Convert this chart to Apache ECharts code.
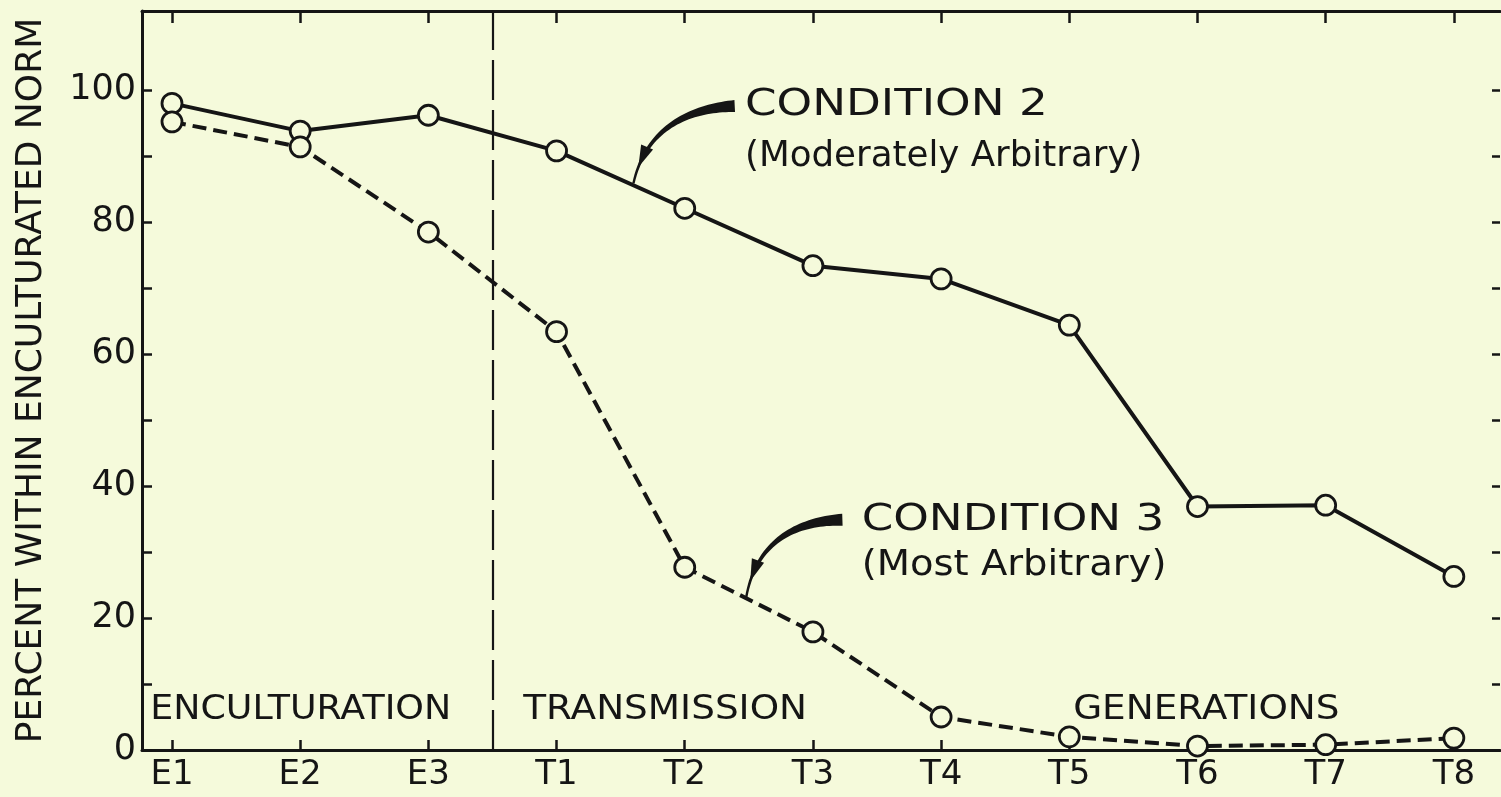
<!DOCTYPE html>
<html><head><meta charset="utf-8">
<script src="https://cdn.jsdelivr.net/npm/echarts@6/dist/echarts.min.js"></script>
<style>html,body{margin:0;padding:0;background:#f5fadb;}#c{width:1501px;height:797px;}</style>
</head><body><div id="c"></div>
<script>
// ---- data ----
const categories = ['E1','E2','E3','T1','T2','T3','T4','T5','T6','T7','T8'];
const condition2 = [98.0, 93.8, 96.2, 90.8, 82.1, 73.4, 71.4, 64.4, 36.9, 37.1, 26.3];
const condition3 = [95.2, 91.4, 78.5, 63.4, 27.7, 17.9, 5.0, 2.0, 0.6, 0.8, 1.8];
const yTickValues = [0,10,20,30,40,50,60,70,80,90,100];
const yLabelValues = [0,20,40,60,80,100];
const phaseBoundary = 2.5;
const phaseNames = ['ENCULTURATION','TRANSMISSION','GENERATIONS'];
const yTitle = 'PERCENT WITHIN ENCULTURATED NORM';
const cond2Label = ['CONDITION 2','(Moderately Arbitrary)'];
const cond3Label = ['CONDITION 3','(Most Arbitrary)'];

// ---- chart ----
const INK = '#151515', BG = '#f5fadb', FONT = '"DejaVu Sans", sans-serif';
const xIdx = categories.map((c, i) => i);
const chart = echarts.init(document.getElementById('c'), null, {renderer: 'canvas'});

const axisLine = {show: true, onZero: false, lineStyle: {color: INK, width: 3}};
const tick = (len, vals) => ({show: true, inside: true, length: len, lineStyle: {color: INK, width: 2.5}, customValues: vals});
const option = {
  backgroundColor: BG,
  animation: false,
  grid: {left: 142, right: 1, top: 11, bottom: 47},
  xAxis: [
    {
      type: 'value', min: -0.234, max: 10.36, position: 'bottom',
      axisLine: axisLine, splitLine: {show: false}, axisTick: tick(10, xIdx),
      axisLabel: {show: true, customValues: xIdx, formatter: v => categories[Math.round(v)],
        color: INK, fontSize: 34, fontFamily: FONT, margin: 8}
    },
    {
      type: 'value', min: -0.234, max: 10.36, position: 'top',
      axisLine: axisLine, splitLine: {show: false}, axisTick: tick(12, xIdx),
      axisLabel: {show: false}
    }
  ],
  yAxis: [
    {
      type: 'value', min: 0, max: 112, position: 'left',
      name: yTitle, nameLocation: 'middle', nameRotate: 90, nameGap: 92,
      nameTextStyle: {color: INK, fontSize: 36, fontFamily: FONT},
      axisLine: axisLine, splitLine: {show: false}, axisTick: tick(10, yTickValues),
      axisLabel: {show: true, customValues: yLabelValues, color: INK, fontSize: 35, fontFamily: FONT, margin: 6}
    },
    {
      type: 'value', min: 0, max: 112, position: 'right',
      axisLine: {show: false, onZero: false}, splitLine: {show: false}, axisTick: tick(8, yTickValues),
      axisLabel: {show: false}
    }
  ],
  series: [
    {
      name: cond2Label[0], type: 'line', xAxisIndex: 0, yAxisIndex: 0,
      data: condition2.map((v, i) => [i, v]),
      symbol: 'circle', symbolSize: 20,
      itemStyle: {color: BG, borderColor: INK, borderWidth: 2.8},
      lineStyle: {color: INK, width: 4, type: 'solid'},
      z: 3,
      markLine: {
        silent: true, symbol: 'none', label: {show: false},
        lineStyle: {color: INK, width: 2.2, type: [40, 10]},
        data: [{xAxis: phaseBoundary}]
      }
    },
    {
      name: cond3Label[0], type: 'line', xAxisIndex: 0, yAxisIndex: 0,
      data: condition3.map((v, i) => [i, v]),
      symbol: 'circle', symbolSize: 20,
      itemStyle: {color: BG, borderColor: INK, borderWidth: 2.8},
      lineStyle: {color: INK, width: 4, type: [14, 7]},
      z: 3
    }
  ]
};
chart.setOption(option);

// ---- annotations (anchored in data coordinates) ----
const px = p => chart.convertToPixel({seriesIndex: 0}, p);
function bez(p0, p1, p2, p3, t) {
  const u = 1 - t;
  return [u*u*u*p0[0] + 3*u*u*t*p1[0] + 3*u*t*t*p2[0] + t*t*t*p3[0],
          u*u*u*p0[1] + 3*u*u*t*p1[1] + 3*u*t*t*p2[1] + t*t*t*p3[1]];
}
function arrow(ctrlData) {
  const [p0, p1, p2, p3] = ctrlData.map(px);
  const n = 40, left = [], right = [];
  for (let i = 0; i <= n; i++) {
    const t = i / n;
    const a = bez(p0, p1, p2, p3, Math.max(0, t - 0.01)), b = bez(p0, p1, p2, p3, Math.min(1, t + 0.01));
    let dx = b[0] - a[0], dy = b[1] - a[1]; const L = Math.hypot(dx, dy) || 1; dx /= L; dy /= L;
    const w = (4.8 * Math.pow(1 - t, 1.6) + 1.2);
    const c = bez(p0, p1, p2, p3, t);
    left.push([c[0] - dy * w, c[1] + dx * w]);
    right.push([c[0] + dy * w, c[1] - dx * w]);
  }
  const body = {type: 'polygon', shape: {points: left.concat(right.reverse())}, style: {fill: INK}, z: 10};
  const tip = bez(p0, p1, p2, p3, 0.9), pre = bez(p0, p1, p2, p3, 0.84);
  let dx = tip[0] - pre[0], dy = tip[1] - pre[1]; const L = Math.hypot(dx, dy); dx /= L; dy /= L;
  const base = [tip[0] - dx * 22, tip[1] - dy * 22];
  const head = {type: 'polygon', shape: {points: [tip, [base[0] - dy * 6.5, base[1] + dx * 6.5], [base[0] + dy * 6.5, base[1] - dx * 6.5]]},
    style: {fill: INK}, z: 10};
  return [body, head];
}
function label(text, dataPos, size, sx) {
  const p = px(dataPos);
  return {type: 'text', x: p[0], y: p[1], scaleX: sx, z: 10,
    style: {text: text, fill: INK, fontSize: size, fontFamily: FONT, textAlign: 'left', textVerticalAlign: 'middle'}};
}
const graphics = [].concat(
  arrow([[4.39, 97.6], [4.06, 97.3], [3.70, 94.6], [3.6, 85.9]]),
  arrow([[5.23, 34.9], [4.88, 34.7], [4.56, 31.8], [4.48, 23.2]]),
  [
    label(cond2Label[0], [4.47, 97.7], 38, 1.19),
    label(cond2Label[1], [4.47, 90.0], 36, 0.99),
    label(cond3Label[0], [5.38, 34.9], 38, 1.19),
    label(cond3Label[1], [5.38, 28.0], 36, 1.07),
    label(phaseNames[0], [-0.17, 6.0], 34, 1.07),
    label(phaseNames[1], [2.74, 6.0], 34, 1.10),
    label(phaseNames[2], [7.03, 6.0], 34, 1.10)
  ]
);
chart.setOption({graphic: graphics});
</script>
</body></html>
